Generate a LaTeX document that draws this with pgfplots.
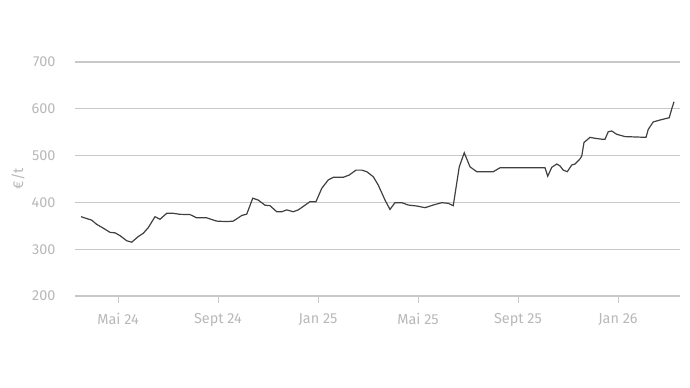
\documentclass[border=0pt]{standalone}
\usepackage{fontspec}
\setmainfont{Fira Sans}
\usepackage{pgfplots}
\pgfplotsset{compat=1.18}
\definecolor{txt}{HTML}{B8B8B8}
\definecolor{grd}{HTML}{C8C8C8}
\definecolor{ln}{HTML}{404040}
\begin{document}
\begin{tikzpicture}
\path[use as bounding box] (0,0) rectangle (690bp,388bp);
\begin{axis}[
  at={(75bp,92bp)}, anchor=south west,
  scale only axis, width=605bp, height=234bp,
  xmin=2.28, xmax=26.48, ymin=200, ymax=700,
  axis line style={draw=none},
  ytick={200,300,...,700},
  ymajorgrids, grid style={grd, line width=1.1bp},
  xtick={4,8,12,16,20,24},
  xticklabels={Mai 24,Sept 24,Jan 25,Mai 25,Sept 25,Jan 26},
  xtick pos=bottom, ytick pos=left, tick align=outside,
  major tick length=7bp,
  xtick style={grd, line width=1bp},
  ytick style={draw=none},
  tick label style={txt, font=\fontsize{14.5}{17}\selectfont},
  /pgf/number format/assume math mode=true,
  xticklabel style={yshift=-7bp},
  yticklabel style={xshift=-9bp},
  ylabel={€/t},
  ylabel style={txt, font=\fontsize{14.5}{17}\selectfont, at={(axis description cs:-0.0942,0.5)}, anchor=center},
]
\addplot[ln, line width=1.2bp] coordinates {
(2.52,369.5) (2.95,362) (3.15,353) (3.41,345) (3.68,336) (3.88,335) (4.08,329)
(4.35,318) (4.55,315) (4.81,327) (5.01,334) (5.21,346) (5.48,369.5) (5.68,364)
(5.95,376.7) (6.21,376.7) (6.48,374.5) (6.88,374) (7.15,367) (7.55,367) (7.95,360)
(8.35,359) (8.61,360) (8.95,372) (9.15,375) (9.39,409) (9.61,405) (9.88,394)
(10.08,393) (10.35,380) (10.55,380) (10.75,384) (11.01,380) (11.21,384) (11.48,394)
(11.68,401.6) (11.92,401.6) (12.15,430) (12.41,448) (12.61,453.6) (13.01,453.6)
(13.25,458.5) (13.52,469) (13.75,469) (13.95,465.6) (14.21,455) (14.41,437)
(14.68,405) (14.88,385) (15.08,399.4) (15.35,399.4) (15.61,394.4) (15.95,392.3)
(16.28,388.7) (16.61,394.4) (16.95,399.4) (17.21,398) (17.41,393) (17.65,476)
(17.85,506) (18.08,476) (18.35,465.6) (19.01,465.6) (19.28,474) (21.08,474)
(21.19,456) (21.35,475) (21.55,482) (21.68,478) (21.81,469) (21.97,465.6)
(22.15,480) (22.28,482) (22.48,493) (22.55,499) (22.64,528) (22.88,539)
(23.08,537) (23.35,535) (23.48,535) (23.61,551) (23.75,552.6) (23.95,545.5)
(24.28,540.6) (25.12,539) (25.21,556) (25.41,572) (25.68,576) (26.05,581)
(26.15,600) (26.24,615)
};
\end{axis}
\end{tikzpicture}
\end{document}
